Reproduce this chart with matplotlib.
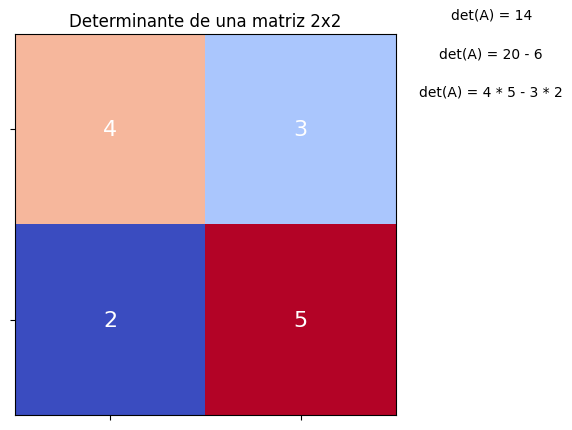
import numpy as np
import matplotlib
matplotlib.use('Agg')
import matplotlib.pyplot as plt

# matriz 2x2
A = np.array([[4, 3],
              [2, 5]])
det_lines = ['det(A) = 4 * 5 - 3 * 2', 'det(A) = 20 - 6', 'det(A) = 14']
det_y = [-0.2, -0.4, -0.6]

fig = plt.figure(figsize=(5.72, 4.31), dpi=100)
ax = fig.add_axes([15/572, 15/431, 381/572, 381/431])
ax.imshow(A, cmap='coolwarm')

for i in range(A.shape[0]):
    for j in range(A.shape[1]):
        ax.text(j, i, str(A[i, j]), ha='center', va='center', color='white', fontsize=16)

for y, s in zip(det_y, det_lines):
    ax.text(2.0, y, s, ha='center', va='center', fontsize=10)

ax.set_title('Determinante de una matriz 2x2')
ax.set_xticks([0, 1])
ax.set_yticks([0, 1])
ax.set_xticklabels([])
ax.set_yticklabels([])

fig.savefig('out.png', dpi=100)
